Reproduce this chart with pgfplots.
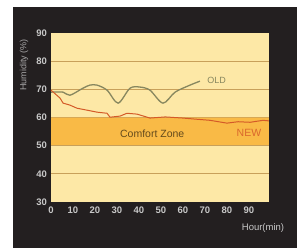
\documentclass[border=0pt]{standalone}
\usepackage{pgfplots}
\pgfplotsset{compat=1.18}
\usepackage{fontspec}
\setmainfont{Liberation Sans}
\definecolor{bgdark}{RGB}{35,31,32}
\definecolor{paleyel}{RGB}{253,232,166}
\definecolor{bandor}{RGB}{249,186,70}
\definecolor{gridtan}{RGB}{200,160,90}
\definecolor{oldcol}{RGB}{135,135,95}
\definecolor{newcol}{RGB}{212,90,40}
\definecolor{ticktext}{RGB}{200,200,200}
\begin{document}
\begin{tikzpicture}
\useasboundingbox[fill=white] (-51pt,-46pt) rectangle (256pt,202pt);
\fill[bgdark] (-38pt,-46pt) rectangle (246pt,195pt);
\begin{axis}[
  at={(0,0)}, anchor=south west,
  scale only axis,
  width=217.8pt, height=169pt,
  xmin=0, xmax=99, ymin=30, ymax=90,
  axis line style={draw=none},
  axis background/.style={fill=paleyel},
  xtick={0,10,...,90}, ytick={30,40,...,90},
  major tick length=0pt,
  tick label style={font=\fontsize{9.5}{10}\selectfont\bfseries, text=ticktext},
  /pgf/number format/assume math mode=true,
  xticklabel style={yshift=-1pt},
  yticklabel style={xshift=-0.5pt},
  clip=false,
]
% comfort band
\addplot[fill=bandor, draw=none] coordinates {(0,50) (99,50) (99,60) (0,60)} -- cycle;
% grid lines
\addplot[gridtan, line width=1pt] coordinates {(0,80) (99,80)};
\addplot[gridtan, line width=1pt] coordinates {(0,70) (99,70)};
\addplot[gridtan, line width=1pt] coordinates {(0,50) (99,50)};
\addplot[gridtan, line width=1pt] coordinates {(0,40) (99,40)};
\addplot[gridtan!70!bandor, line width=0.6pt] coordinates {(0,60) (99,60)};
% OLD
\addplot[oldcol, line width=1.3pt, smooth, tension=0.5] coordinates {
(0,69) (5.5,69) (8.6,67.9) (14.5,70.4) (17.7,71.5) (20.9,71.5) (25.5,69.7)
(30.5,65.1) (35.9,70.4) (40.5,70.8) (45,69.7) (50.9,65.1) (56.4,69) (63.2,71.5) (67.7,72.9)};
% NEW
\addplot[newcol, line width=1pt] coordinates {
(0,69.7) (4.1,66.9) (5.5,65.1) (8.6,64.4) (11.8,63.3) (16.4,62.6) (20.9,61.9)
(25.5,61.5) (26.8,60.1) (31.4,60.5) (34.5,61.5) (39.1,61.2) (45,59.8) (52,60.2)
(60,59.8) (66,59.4) (72.3,59) (80,58) (85,58.5) (90.5,58.3) (96.4,59) (99,58.8)};
\node[font=\fontsize{9}{10}\selectfont, text=oldcol, anchor=west] at (axis cs:69.5,73) {OLD};
\node[font=\fontsize{10.5}{12}\selectfont, text=black!60!bandor] at (axis cs:46,54.4) {Comfort Zone};
\node[font=\fontsize{10.5}{12}\selectfont, text=newcol!85!bandor] at (axis cs:90,54.4) {NEW};
\end{axis}
\node[rotate=90, font=\fontsize{9}{10}\selectfont, text=ticktext!80!bgdark] at (-27pt,137pt) {Humidity (\%)};
\node[font=\fontsize{9.5}{10}\selectfont, text=ticktext] at (212pt,-26pt) {Hour(min)};
\end{tikzpicture}
\end{document}
